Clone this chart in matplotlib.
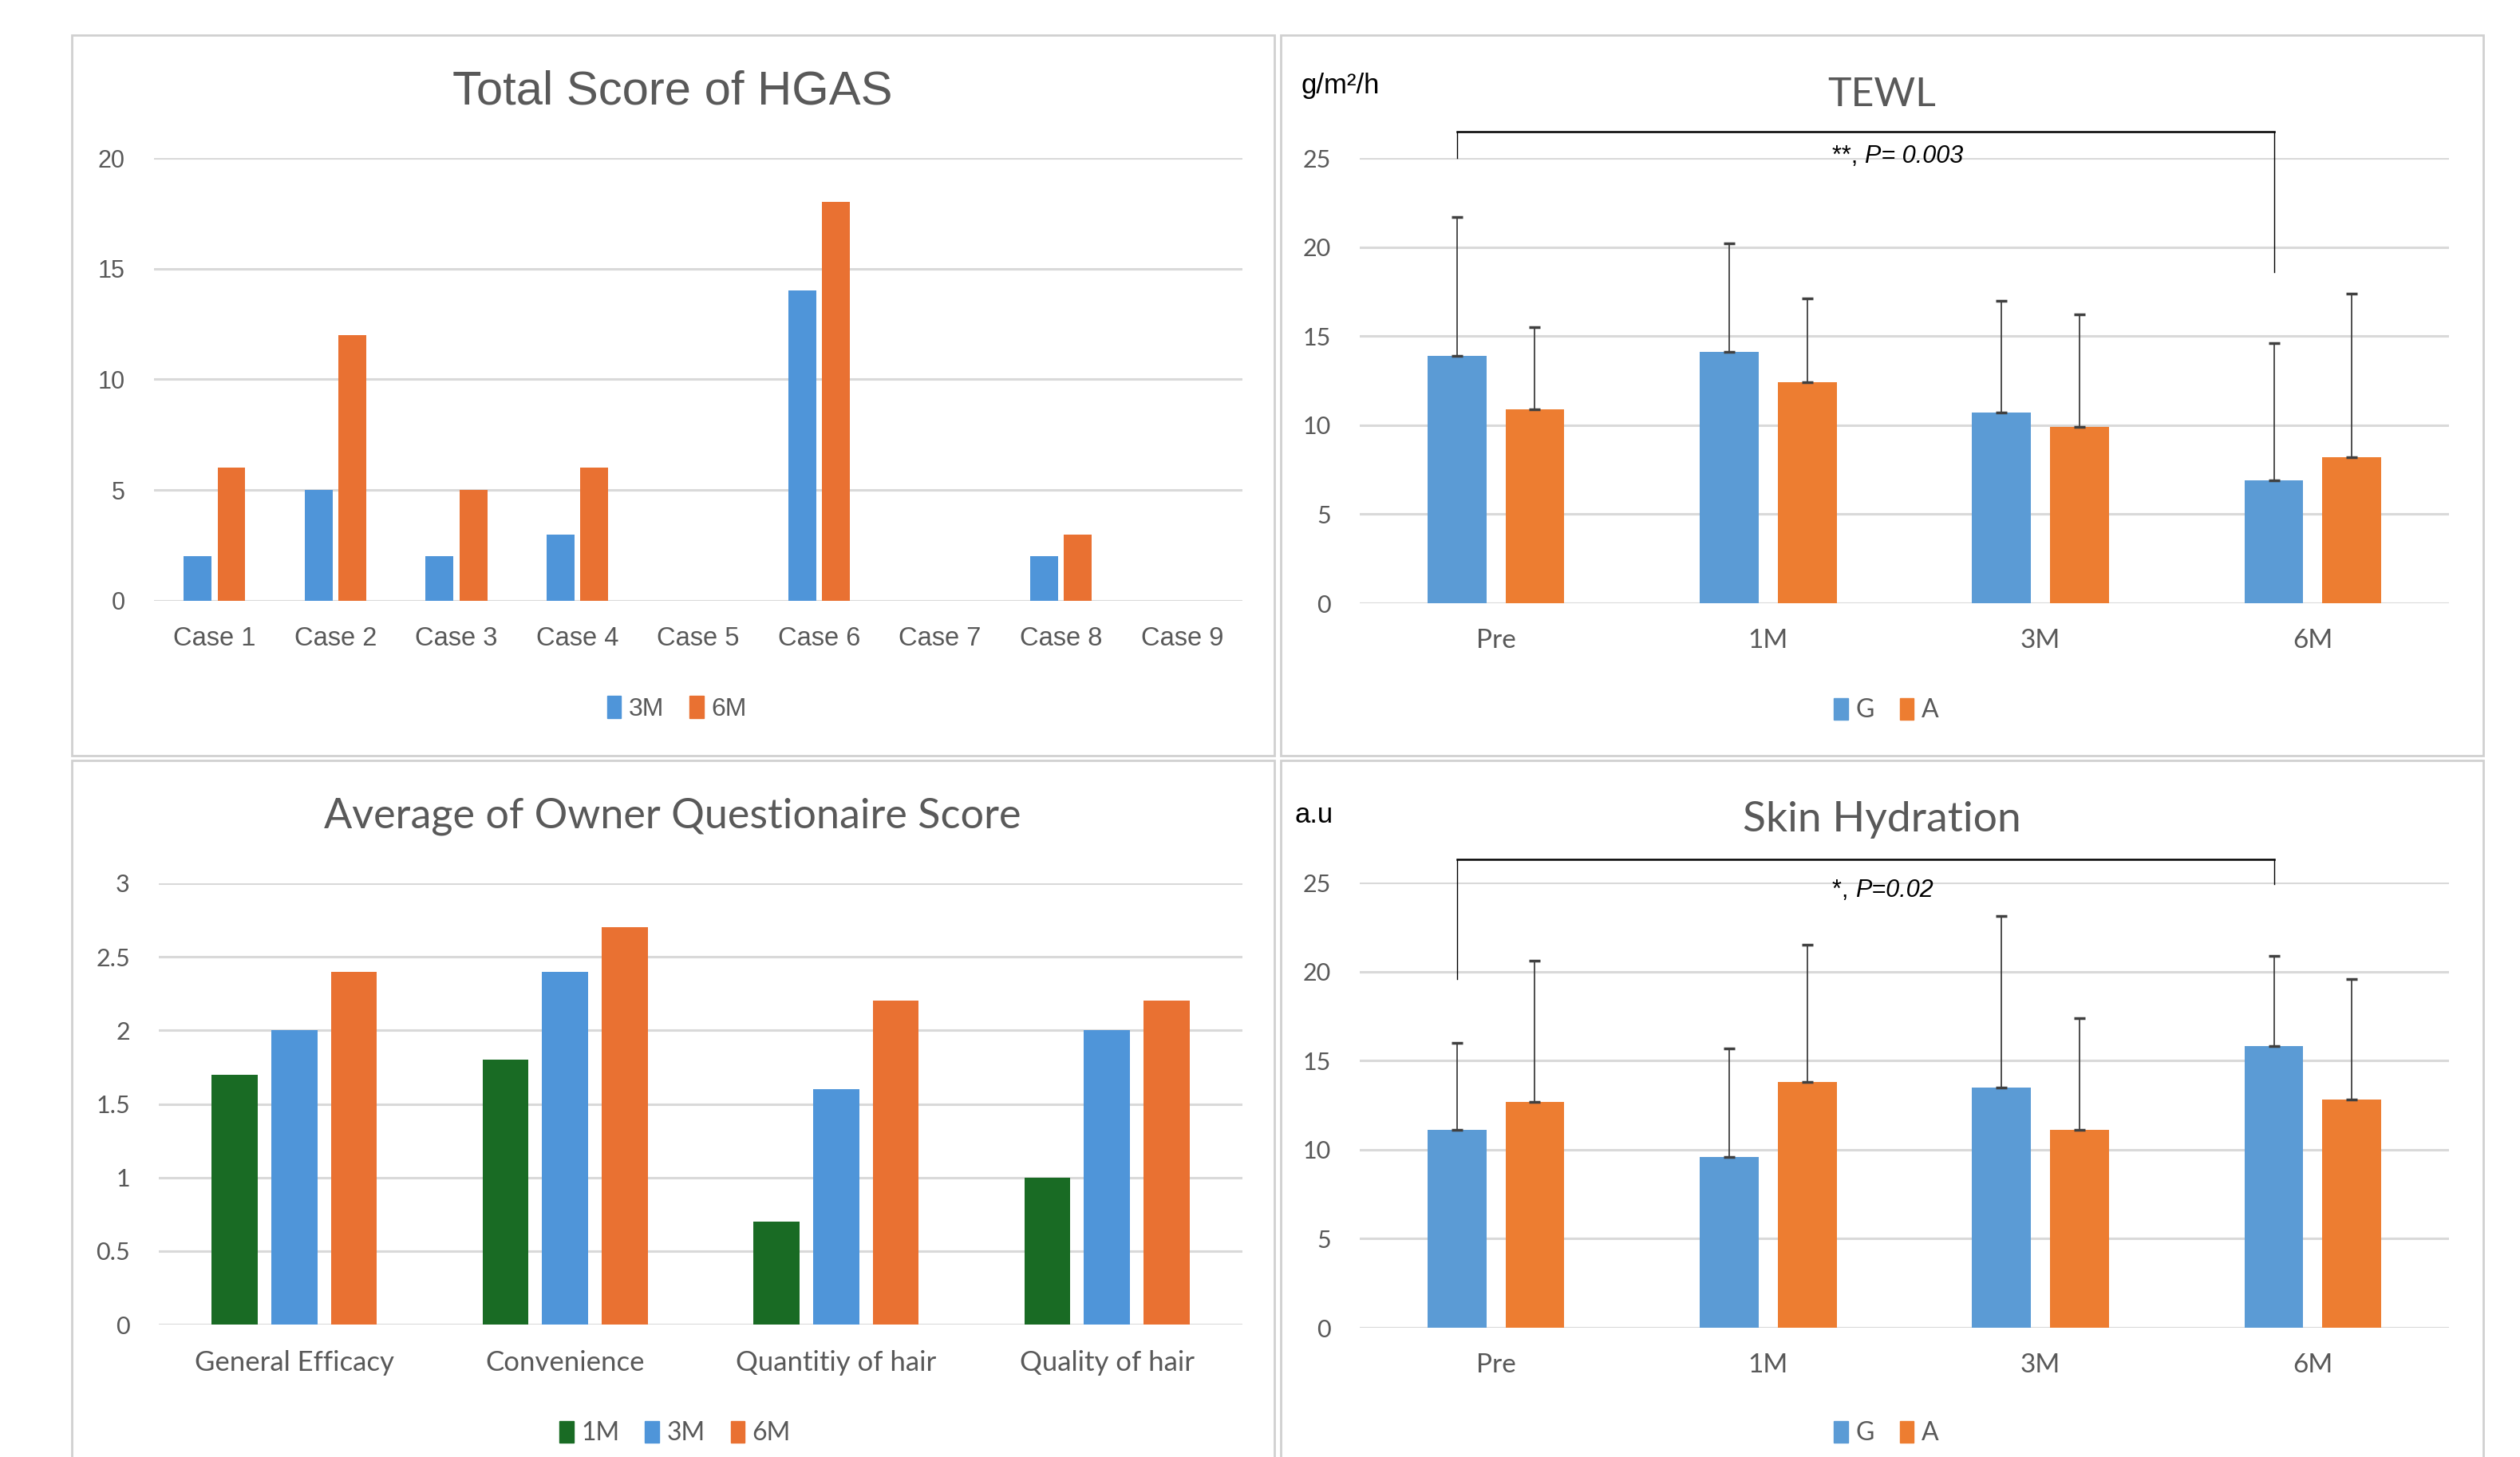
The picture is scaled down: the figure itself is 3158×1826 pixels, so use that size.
import matplotlib
matplotlib.use("Agg")
import matplotlib.pyplot as plt
import numpy as np
from matplotlib.patches import Rectangle, Patch

# ---------------- data ----------------
hgas_cases = ["Case 1", "Case 2", "Case 3", "Case 4", "Case 5", "Case 6", "Case 7", "Case 8", "Case 9"]
hgas_3m = [2, 5, 2, 3, 0, 14, 0, 2, 0]
hgas_6m = [6, 12, 5, 6, 0, 18, 0, 3, 0]

quest_items = ["General Efficacy", "Convenience", "Quantitiy of hair", "Quality of hair"]
quest_1m = [1.7, 1.8, 0.7, 1.0]
quest_3m = [2.0, 2.4, 1.6, 2.0]
quest_6m = [2.4, 2.7, 2.2, 2.2]

time_points = ["Pre", "1M", "3M", "6M"]
tewl_g = [13.9, 14.1, 10.7, 6.9]
tewl_g_err = [7.8, 6.1, 6.3, 7.7]
tewl_a = [10.9, 12.4, 9.9, 8.2]
tewl_a_err = [4.6, 4.7, 6.3, 9.2]

hyd_g = [11.1, 9.6, 13.5, 15.8]
hyd_g_err = [4.9, 6.1, 9.6, 5.1]
hyd_a = [12.7, 13.8, 11.1, 12.8]
hyd_a_err = [7.9, 7.7, 6.3, 6.8]

# ---------------- style ----------------
BLUE = "#5B9BD5"
ORANGE = "#ED7D31"
BLUE2 = "#4F95D9"
ORANGE2 = "#E97132"
GREEN = "#196B24"
GRID = "#D9D9D9"
TXT = "#595959"

W, H = 3158, 1826
fig = plt.figure(figsize=(W / 100, H / 100), dpi=100)
fig.patch.set_facecolor("white")


def ax_at(x0, x1, ytop, ybot):
    return fig.add_axes([x0 / W, 1 - ybot / H, (x1 - x0) / W, (ybot - ytop) / H])


def style(ax, font, yfs=22, xfs=22):
    for s in ax.spines.values():
        s.set_visible(False)
    ax.yaxis.grid(True, color=GRID, linewidth=2.2)
    ax.set_axisbelow(True)
    ax.tick_params(axis="both", length=0, labelcolor=TXT)
    ax.tick_params(axis="y", pad=26, labelsize=yfs)
    ax.tick_params(axis="x", pad=23, labelsize=xfs)
    for lab in ax.get_xticklabels() + ax.get_yticklabels():
        lab.set_fontfamily(font)


def legend(handles, labels, font, xc, yc):
    leg = fig.legend(handles, labels, loc="center", bbox_to_anchor=(xc / W, 1 - yc / H),
                     ncol=len(labels), frameon=False, handlelength=0.55, handleheight=0.95,
                     handletextpad=0.3, columnspacing=1.0,
                     prop={"family": font, "size": 23})
    for t in leg.get_texts():
        t.set_color(TXT)


def title(txt, xc, yc, font, fs):
    fig.text(xc / W, 1 - yc / H, txt, fontsize=fs, family=font, color=TXT,
             ha="center", va="center")


# panel borders
def panel(x0, x1, y0, y1):
    fig.add_artist(Rectangle((x0 / W, 1 - y1 / H), (x1 - x0) / W, (y1 - y0) / H,
                             transform=fig.transFigure, fill=False,
                             edgecolor="#D0D0D0", linewidth=2.0))


panel(90, 1597, 44, 947)
panel(1605, 3112, 44, 947)
panel(90, 1597, 953, 1840)
panel(1605, 3112, 953, 1840)

# ---------------- HGAS ----------------
ax1 = ax_at(193, 1557, 198, 753)
x = np.arange(len(hgas_cases))
bw = 0.23
ax1.bar(x - 0.14, hgas_3m, bw, color=BLUE2, label="3M")
ax1.bar(x + 0.14, hgas_6m, bw, color=ORANGE2, label="6M")
ax1.set_xlim(-0.5, len(hgas_cases) - 0.5)
ax1.set_ylim(0, 20)
ax1.set_yticks([0, 5, 10, 15, 20])
ax1.set_xticks(x)
ax1.set_xticklabels(hgas_cases)
style(ax1, "Liberation Sans", 22, 23.5)
title("Total Score of HGAS", 843, 115, "Liberation Sans", 43)
legend([Patch(color=BLUE2), Patch(color=ORANGE2)], ["3M", "6M"], "Liberation Sans", 848, 888)

# ---------------- Questionnaire ----------------
ax2 = ax_at(199, 1557, 1107, 1660)
xq = np.arange(len(quest_items))
bw = 0.17
ax2.bar(xq - 0.22, quest_1m, bw, color=GREEN)
ax2.bar(xq, quest_3m, bw, color=BLUE2)
ax2.bar(xq + 0.22, quest_6m, bw, color=ORANGE2)
ax2.set_xlim(-0.5, len(quest_items) - 0.5)
ax2.set_ylim(0, 3)
ax2.set_yticks([0, 0.5, 1, 1.5, 2, 2.5, 3])
ax2.set_yticklabels(["0", "0.5", "1", "1.5", "2", "2.5", "3"])
ax2.set_xticks(xq)
ax2.set_xticklabels(quest_items)
style(ax2, "Lato", 22, 25)
title("Average of Owner Questionaire Score", 843, 1023, "Lato", 37.5)
legend([Patch(color=GREEN), Patch(color=BLUE2), Patch(color=ORANGE2)], ["1M", "3M", "6M"], "Lato", 846, 1796)


# ---------------- TEWL / Hydration ----------------
def errbars(ax, g, ge, a, ae, off, bw):
    xt = np.arange(len(time_points))
    ax.bar(xt - off, g, bw, color=BLUE, label="G")
    ax.bar(xt + off, a, bw, color=ORANGE, label="A")
    ax.errorbar(xt - off, g, yerr=[np.zeros(len(g)), ge], fmt="none", ecolor="#404040",
                elinewidth=1.3, capsize=5, capthick=2.5)
    ax.errorbar(xt + off, a, yerr=[np.zeros(len(a)), ae], fmt="none", ecolor="#404040",
                elinewidth=1.3, capsize=5, capthick=2.5)
    ax.set_xlim(-0.5, len(time_points) - 0.5)
    ax.set_ylim(0, 25)
    ax.set_yticks([0, 5, 10, 15, 20, 25])
    ax.set_xticks(xt)
    ax.set_xticklabels(time_points)
    style(ax, "Lato", 22, 24)
    return xt


off = 0.143
bw = 0.216
ax3 = ax_at(1704, 3069, 198, 756)
xt = errbars(ax3, tewl_g, tewl_g_err, tewl_a, tewl_a_err, off, bw)
title("TEWL", 2358, 119, "Lato", 36)
legend([Patch(color=BLUE), Patch(color=ORANGE)], ["G", "A"], "Lato", 2364, 890)
fig.text(1630 / W, 1 - 107 / H, "g/m²/h", fontsize=25, family="Liberation Sans",
         color="black", va="center", ha="left")
# significance bracket
top = 26.5
ax3.plot([xt[0] - off, xt[0] - off], [25.0, top], color="black", lw=1.0, clip_on=False)
ax3.plot([xt[0] - off, xt[3] - off], [top, top], color="black", lw=1.8, clip_on=False)
ax3.plot([xt[3] - off, xt[3] - off], [top, 18.6], color="black", lw=1.0, clip_on=False)
ax3.text(1.355, 25.1, "**, ", fontsize=22, family="Liberation Sans", ha="right", va="center")
ax3.text(1.355, 25.1, "P= 0.003", fontsize=22, family="Liberation Sans", style="italic",
         ha="left", va="center")

ax4 = ax_at(1704, 3069, 1106, 1664)
xt = errbars(ax4, hyd_g, hyd_g_err, hyd_a, hyd_a_err, off, bw)
title("Skin Hydration", 2358, 1027, "Lato", 38.5)
legend([Patch(color=BLUE), Patch(color=ORANGE)], ["G", "A"], "Lato", 2364, 1796)
fig.text(1622 / W, 1 - 1021 / H, "a.u", fontsize=25, family="Liberation Sans",
         color="black", va="center", ha="left")
top = 26.3
ax4.plot([xt[0] - off, xt[0] - off], [19.6, top], color="black", lw=1.0, clip_on=False)
ax4.plot([xt[0] - off, xt[3] - off], [top, top], color="black", lw=1.8, clip_on=False)
ax4.plot([xt[3] - off, xt[3] - off], [top, 24.9], color="black", lw=1.0, clip_on=False)
ax4.text(1.32, 24.55, "*, ", fontsize=22, family="Liberation Sans", ha="right", va="center")
ax4.text(1.32, 24.55, "P=0.02", fontsize=22, family="Liberation Sans", style="italic",
         ha="left", va="center")

fig.savefig("out.png", dpi=100, facecolor="white")
